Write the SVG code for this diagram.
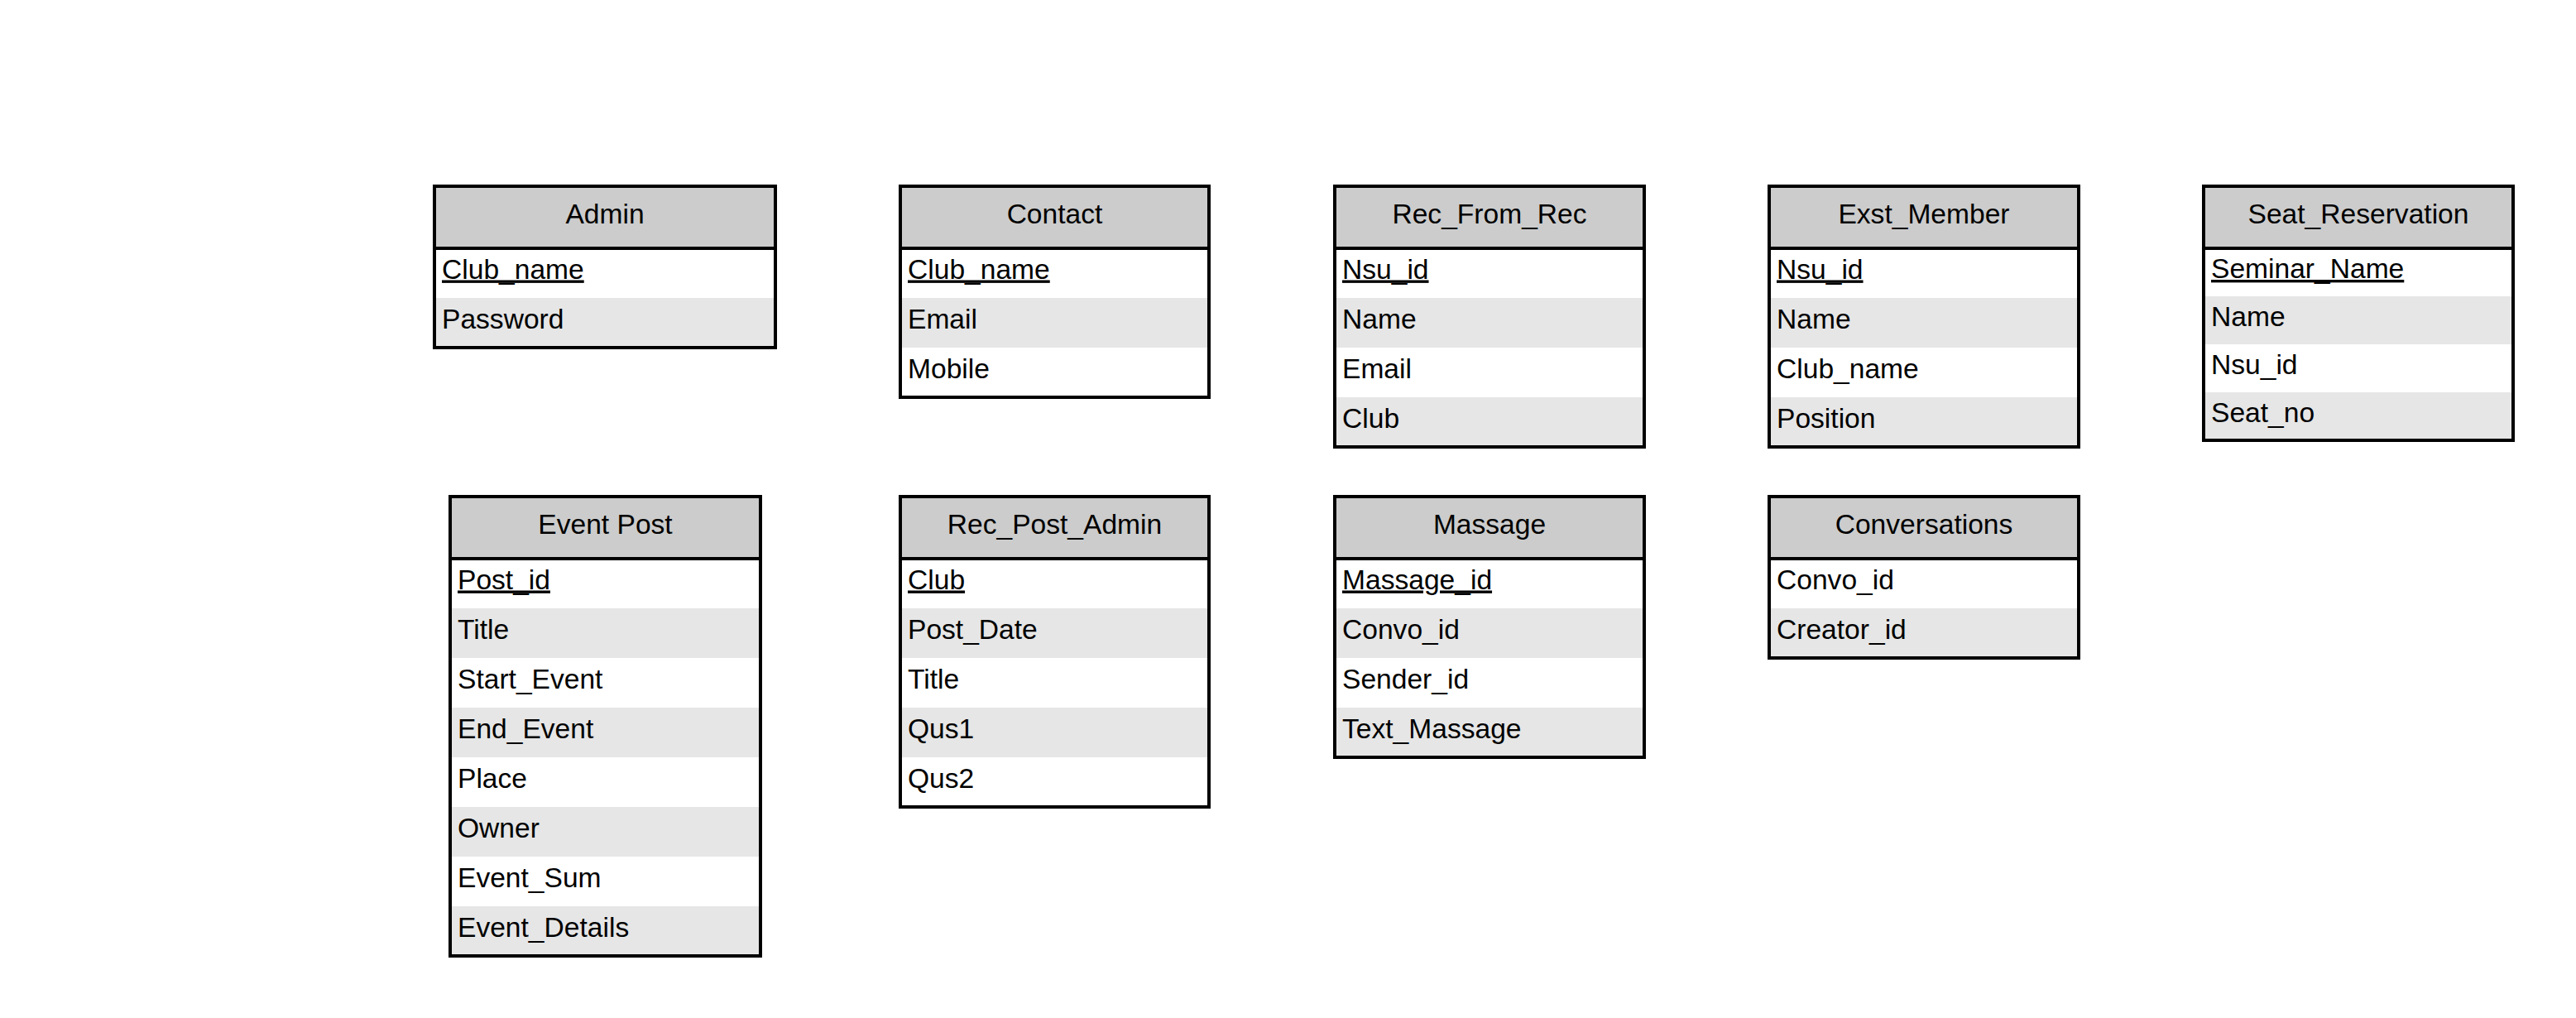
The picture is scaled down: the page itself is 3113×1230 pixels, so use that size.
<svg xmlns="http://www.w3.org/2000/svg" width="3113" height="1230" viewBox="0 0 3113 1230">
<style>
.bg{fill:#FFFFFF;}
.hd{fill:#CCCCCC;}
.alt{fill:#E6E6E6;}
.frame{fill:none;stroke:#000000;stroke-width:4;}
.sep{stroke:#000000;stroke-width:4;}
text{font-family:"Liberation Sans",Arial,sans-serif;font-size:33.6px;fill:#000000;}
.title{text-anchor:middle;}
.pk{text-decoration:underline;}
</style>
<rect x="0" y="0" width="3113" height="1230" fill="#FFFFFF"/>
<g id="connectors"/>

<g id="admin">
<rect class="bg" x="525" y="225" width="412" height="195"/>
<rect class="hd" x="525" y="225" width="412" height="75"/>
<rect class="alt" x="525" y="360" width="412" height="60"/>
<line class="sep" x1="525" y1="300" x2="937" y2="300"/>
<rect class="frame" x="525" y="225" width="412" height="195"/>
<text class="title" x="731" y="269.5">Admin</text>
<text class="pk" x="534" y="336.5">Club_name</text>
<text x="534" y="396.5">Password</text>
</g>

<g id="contact">
<rect class="bg" x="1088" y="225" width="373" height="255"/>
<rect class="hd" x="1088" y="225" width="373" height="75"/>
<rect class="alt" x="1088" y="360" width="373" height="60"/>
<line class="sep" x1="1088" y1="300" x2="1461" y2="300"/>
<rect class="frame" x="1088" y="225" width="373" height="255"/>
<text class="title" x="1274.5" y="269.5">Contact</text>
<text class="pk" x="1097" y="336.5">Club_name</text>
<text x="1097" y="396.5">Email</text>
<text x="1097" y="456.5">Mobile</text>
</g>

<g id="rec_from_rec">
<rect class="bg" x="1613" y="225" width="374" height="315"/>
<rect class="hd" x="1613" y="225" width="374" height="75"/>
<rect class="alt" x="1613" y="360" width="374" height="60"/>
<rect class="alt" x="1613" y="480" width="374" height="60"/>
<line class="sep" x1="1613" y1="300" x2="1987" y2="300"/>
<rect class="frame" x="1613" y="225" width="374" height="315"/>
<text class="title" x="1800" y="269.5">Rec_From_Rec</text>
<text class="pk" x="1622" y="336.5">Nsu_id</text>
<text x="1622" y="396.5">Name</text>
<text x="1622" y="456.5">Email</text>
<text x="1622" y="516.5">Club</text>
</g>

<g id="exst_member">
<rect class="bg" x="2138" y="225" width="374" height="315"/>
<rect class="hd" x="2138" y="225" width="374" height="75"/>
<rect class="alt" x="2138" y="360" width="374" height="60"/>
<rect class="alt" x="2138" y="480" width="374" height="60"/>
<line class="sep" x1="2138" y1="300" x2="2512" y2="300"/>
<rect class="frame" x="2138" y="225" width="374" height="315"/>
<text class="title" x="2325" y="269.5">Exst_Member</text>
<text class="pk" x="2147" y="336.5">Nsu_id</text>
<text x="2147" y="396.5">Name</text>
<text x="2147" y="456.5">Club_name</text>
<text x="2147" y="516.5">Position</text>
</g>

<g id="seat_reservation">
<rect class="bg" x="2663" y="225" width="374" height="307"/>
<rect class="hd" x="2663" y="225" width="374" height="75"/>
<rect class="alt" x="2663" y="358" width="374" height="58"/>
<rect class="alt" x="2663" y="474" width="374" height="58"/>
<line class="sep" x1="2663" y1="300" x2="3037" y2="300"/>
<rect class="frame" x="2663" y="225" width="374" height="307"/>
<text class="title" x="2850" y="269.5">Seat_Reservation</text>
<text class="pk" x="2672" y="336">Seminar_Name</text>
<text x="2672" y="394">Name</text>
<text x="2672" y="452">Nsu_id</text>
<text x="2672" y="510">Seat_no</text>
</g>

<g id="event_post">
<rect class="bg" x="544" y="600" width="375" height="555"/>
<rect class="hd" x="544" y="600" width="375" height="75"/>
<rect class="alt" x="544" y="735" width="375" height="60"/>
<rect class="alt" x="544" y="855" width="375" height="60"/>
<rect class="alt" x="544" y="975" width="375" height="60"/>
<rect class="alt" x="544" y="1095" width="375" height="60"/>
<line class="sep" x1="544" y1="675" x2="919" y2="675"/>
<rect class="frame" x="544" y="600" width="375" height="555"/>
<text class="title" x="731.5" y="644.5">Event Post</text>
<text class="pk" x="553" y="711.5">Post_id</text>
<text x="553" y="771.5">Title</text>
<text x="553" y="831.5">Start_Event</text>
<text x="553" y="891.5">End_Event</text>
<text x="553" y="951.5">Place</text>
<text x="553" y="1011.5">Owner</text>
<text x="553" y="1071.5">Event_Sum</text>
<text x="553" y="1131.5">Event_Details</text>
</g>

<g id="rec_post_admin">
<rect class="bg" x="1088" y="600" width="373" height="375"/>
<rect class="hd" x="1088" y="600" width="373" height="75"/>
<rect class="alt" x="1088" y="735" width="373" height="60"/>
<rect class="alt" x="1088" y="855" width="373" height="60"/>
<line class="sep" x1="1088" y1="675" x2="1461" y2="675"/>
<rect class="frame" x="1088" y="600" width="373" height="375"/>
<text class="title" x="1274.5" y="644.5">Rec_Post_Admin</text>
<text class="pk" x="1097" y="711.5">Club</text>
<text x="1097" y="771.5">Post_Date</text>
<text x="1097" y="831.5">Title</text>
<text x="1097" y="891.5">Qus1</text>
<text x="1097" y="951.5">Qus2</text>
</g>

<g id="massage">
<rect class="bg" x="1613" y="600" width="374" height="315"/>
<rect class="hd" x="1613" y="600" width="374" height="75"/>
<rect class="alt" x="1613" y="735" width="374" height="60"/>
<rect class="alt" x="1613" y="855" width="374" height="60"/>
<line class="sep" x1="1613" y1="675" x2="1987" y2="675"/>
<rect class="frame" x="1613" y="600" width="374" height="315"/>
<text class="title" x="1800" y="644.5">Massage</text>
<text class="pk" x="1622" y="711.5">Massage_id</text>
<text x="1622" y="771.5">Convo_id</text>
<text x="1622" y="831.5">Sender_id</text>
<text x="1622" y="891.5">Text_Massage</text>
</g>

<g id="conversations">
<rect class="bg" x="2138" y="600" width="374" height="195"/>
<rect class="hd" x="2138" y="600" width="374" height="75"/>
<rect class="alt" x="2138" y="735" width="374" height="60"/>
<line class="sep" x1="2138" y1="675" x2="2512" y2="675"/>
<rect class="frame" x="2138" y="600" width="374" height="195"/>
<text class="title" x="2325" y="644.5">Conversations</text>
<text x="2147" y="711.5">Convo_id</text>
<text x="2147" y="771.5">Creator_id</text>
</g>
</svg>
